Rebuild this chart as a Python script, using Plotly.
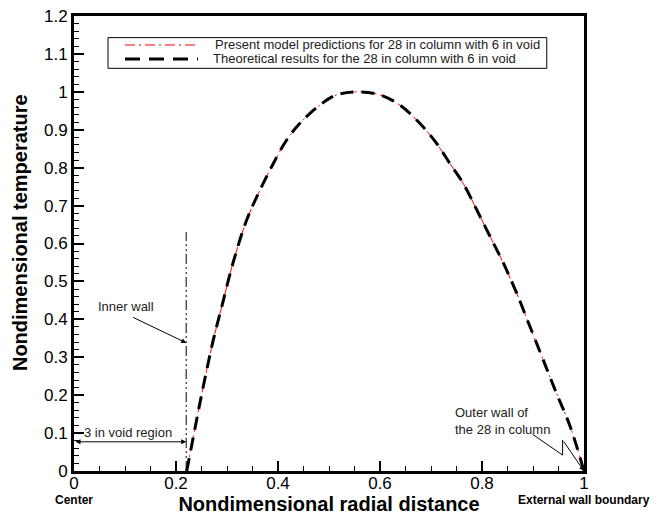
import plotly.graph_objects as go

# ---- data ----
r = [0.221, 0.234, 0.247, 0.26, 0.273, 0.29, 0.3125, 0.3386, 0.3647, 0.3908, 0.417,
     0.443, 0.482, 0.515, 0.557, 0.6, 0.639, 0.678, 0.711, 0.737, 0.763, 0.79,
     0.816, 0.842, 0.868, 0.894, 0.92, 0.946, 0.973, 1.0]
T_theory = [0.0, 0.09, 0.18, 0.265, 0.345, 0.435, 0.552, 0.662, 0.741, 0.811, 0.873,
            0.917, 0.965, 0.992, 1.0, 0.992, 0.965, 0.917, 0.864, 0.811, 0.759, 0.688,
            0.618, 0.548, 0.469, 0.381, 0.293, 0.205, 0.117, 0.0]
T_model = [0.0, 0.09, 0.18, 0.265, 0.345, 0.435, 0.552, 0.662, 0.741, 0.811, 0.873,
           0.917, 0.965, 0.992, 1.0, 0.992, 0.965, 0.917, 0.864, 0.811, 0.759, 0.688,
           0.618, 0.548, 0.469, 0.381, 0.293, 0.205, 0.117, 0.0]

series_names = ["Present model predictions for 28 in column with 6 in void",
                "Theoretical results for the 28 in column with 6 in void"]

inner_wall_r = 0.22
inner_wall_top = 0.63
void_arrow_y = 0.077
outer_zig_x = [0.899, 0.958, 0.958]
outer_zig_y = [0.097, 0.042, 0.082]

FONT = "Liberation Sans, Arial, Helvetica, sans-serif"
RED_DASH = "10px,4px,2px,4px"
BLACK_DASH = "13px,8px"

fig = go.Figure()
fig.add_trace(go.Scatter(x=r, y=T_model, mode="lines", name=series_names[0],
                         line=dict(color="red", width=1, dash=RED_DASH, shape="spline"),
                         showlegend=False))
fig.add_trace(go.Scatter(x=r, y=T_theory, mode="lines", name=series_names[1],
                         line=dict(color="black", width=3, dash=BLACK_DASH, shape="spline"),
                         showlegend=False))
# zigzag leader for the outer wall label
fig.add_trace(go.Scatter(x=outer_zig_x, y=outer_zig_y, mode="lines",
                         line=dict(color="black", width=1), showlegend=False,
                         hoverinfo="skip"))

axis_common = dict(showline=True, linewidth=3, linecolor="black", mirror=True,
                   ticks="inside", ticklen=10, tickwidth=2, tickcolor="black",
                   showgrid=False, zeroline=False,
                   tickfont=dict(family=FONT, size=17, color="black"))

fig.update_xaxes(range=[0, 1], tick0=0, dtick=0.2, ticklabelstandoff=-5,
                 minor=dict(dtick=0.05, ticks="inside", ticklen=5, tickwidth=1, tickcolor="black"),
                 title=dict(text="<b>Nondimensional radial distance</b>", standoff=12,
                            font=dict(family=FONT, size=20, color="black")),
                 **axis_common)
fig.update_yaxes(range=[0, 1.2], tick0=0, dtick=0.1,
                 minor=dict(dtick=0.02, ticks="inside", ticklen=5, tickwidth=1, tickcolor="black"),
                 **axis_common)

shapes = []
# inner wall line
shapes.append(dict(type="line", xref="x", yref="y", x0=inner_wall_r, x1=inner_wall_r,
                   y0=0, y1=inner_wall_top,
                   line=dict(color="black", width=1, dash="10px,3px,2px,3px,2px,3px")))
# manual legend
lx0, lx1, ly0, ly1 = 0.0667, 0.927, 0.885, 0.9525
shapes.append(dict(type="rect", xref="paper", yref="paper", x0=lx0, x1=lx1, y0=ly0, y1=ly1,
                   line=dict(color="black", width=1), fillcolor="white", layer="above"))
leg_y = [0.9363, 0.9055]
shapes.append(dict(type="line", xref="paper", yref="paper", x0=0.1, x1=0.243,
                   y0=leg_y[0], y1=leg_y[0], line=dict(color="red", width=1, dash=RED_DASH)))
shapes.append(dict(type="line", xref="paper", yref="paper", x0=0.1, x1=0.243,
                   y0=leg_y[1], y1=leg_y[1], line=dict(color="black", width=3, dash="15px,9px")))

annotations = []
annotations.append(dict(xref="paper", yref="paper", x=0.2725, y=leg_y[0], text=series_names[0],
                        showarrow=False, xanchor="left", yanchor="middle",
                        font=dict(family=FONT, size=13, color="#222")))
annotations.append(dict(xref="paper", yref="paper", x=0.2686, y=leg_y[1], text=series_names[1],
                        showarrow=False, xanchor="left", yanchor="middle",
                        font=dict(family=FONT, size=13, color="#222")))
# y-axis title
annotations.append(dict(xref="paper", yref="paper", x=-0.106, y=0.525,
                        text="<b>Nondimensional temperature</b>", textangle=-90,
                        showarrow=False, xanchor="center", yanchor="middle",
                        font=dict(family=FONT, size=20, color="black")))
# Inner wall
annotations.append(dict(xref="x", yref="y", x=0.044, y=0.433, text="Inner wall",
                        showarrow=False, xanchor="left", yanchor="middle",
                        font=dict(family=FONT, size=13, color="#222")))
annotations.append(dict(xref="x", yref="y", x=inner_wall_r, y=0.338, ax=0.113, ay=0.407,
                        axref="x", ayref="y", text="", showarrow=True, arrowhead=2,
                        arrowsize=1, arrowwidth=1, arrowcolor="black"))
# void region
annotations.append(dict(xref="x", yref="y", x=0.106, y=0.101, text="3 in void region",
                        showarrow=False, xanchor="center", yanchor="middle",
                        font=dict(family=FONT, size=13, color="#222")))
annotations.append(dict(xref="x", yref="y", x=inner_wall_r, y=void_arrow_y, ax=0.0, ay=void_arrow_y,
                        axref="x", ayref="y", text="", showarrow=True, arrowhead=2,
                        arrowside="end+start", arrowsize=1, arrowwidth=1, arrowcolor="black"))
# outer wall
annotations.append(dict(xref="x", yref="y", x=0.744, y=0.131, text="Outer wall of<br>the 28 in column",
                        showarrow=False, xanchor="left", yanchor="middle", align="left",
                        font=dict(family=FONT, size=13, color="#222")))
annotations.append(dict(xref="x", yref="y", x=1.0, y=0.0, ax=outer_zig_x[-1], ay=outer_zig_y[-1],
                        axref="x", ayref="y", text="", showarrow=True, arrowhead=2,
                        arrowsize=1, arrowwidth=1, arrowcolor="black"))
# under-axis labels
annotations.append(dict(xref="x", yref="paper", x=0, y=0, yshift=-29, text="<b>Center</b>",
                        showarrow=False, xanchor="center", yanchor="middle",
                        font=dict(family=FONT, size=12, color="black")))
annotations.append(dict(xref="x", yref="paper", x=1, y=0, yshift=-29,
                        text="<b>External wall boundary</b>",
                        showarrow=False, xanchor="center", yanchor="middle",
                        font=dict(family=FONT, size=12, color="black")))

fig.update_layout(width=660, height=515, margin=dict(l=74, r=76, t=16, b=44, autoexpand=False),
                  paper_bgcolor="white", plot_bgcolor="white",
                  shapes=shapes, annotations=annotations, showlegend=False,
                  font=dict(family=FONT))

fig.write_html("out.html")
